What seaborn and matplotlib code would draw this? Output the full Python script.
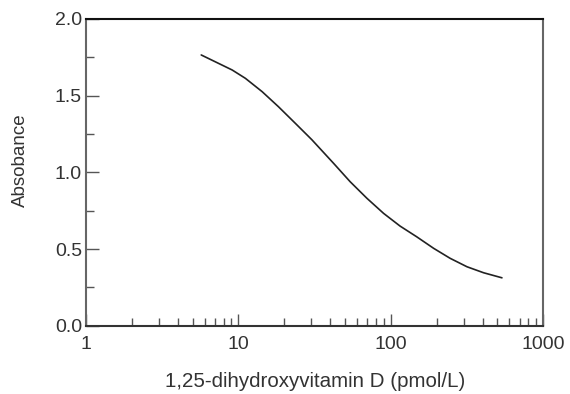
import seaborn as sns
import matplotlib.pyplot as plt
from matplotlib.ticker import MultipleLocator, LogLocator, NullFormatter, FixedLocator, FixedFormatter
import pandas as pd

# standard curve
conc = [5.7, 7.0, 9.1, 11.1, 14.3, 18.3, 23.6, 30.3, 42.1, 54.1,
        69.7, 89.6, 115, 148, 191, 245, 316, 406, 536]
absorbance = [1.765, 1.722, 1.667, 1.613, 1.526, 1.428, 1.320, 1.213, 1.059, 0.939,
              0.831, 0.733, 0.650, 0.580, 0.505, 0.440, 0.385, 0.346, 0.313]

x_ticks = [1, 10, 100, 1000]
x_ticklabels = ["1", "10", "100", "1000"]

df = pd.DataFrame({"conc": conc, "abs": absorbance})

sns.set_style("ticks")
plt.rcParams["font.family"] = ["Liberation Sans", "Arimo", "DejaVu Sans"]
plt.rcParams["xtick.direction"] = "in"
plt.rcParams["ytick.direction"] = "in"

fig = plt.figure(figsize=(5.7, 3.94), dpi=100)
ax = fig.add_axes([0.151, 0.173, 0.802, 0.779])

sns.lineplot(data=df, x="conc", y="abs", color="#222222", linewidth=1.2, ax=ax)

ax.set_xscale("log")
ax.set_xlim(1, 1000)
ax.set_ylim(0, 2.0)

ax.xaxis.set_major_locator(FixedLocator(x_ticks))
ax.xaxis.set_major_formatter(FixedFormatter(x_ticklabels))
ax.xaxis.set_minor_locator(LogLocator(base=10, subs=range(2, 10)))
ax.xaxis.set_minor_formatter(NullFormatter())
ax.yaxis.set_major_locator(MultipleLocator(0.5))
ax.yaxis.set_major_formatter(plt.FormatStrFormatter("%.1f"))
ax.yaxis.set_minor_locator(MultipleLocator(0.25))

ax.tick_params(axis="both", which="major", length=9, width=1.0, color="#555555",
               labelsize=14, labelcolor="#333333")
ax.tick_params(axis="x", which="major", pad=7)
ax.tick_params(axis="y", which="major", pad=3)
ax.tick_params(axis="both", which="minor", length=6, width=1.0, color="#555555")

for side in ["left", "right"]:
    ax.spines[side].set_color("#666666")
    ax.spines[side].set_linewidth(1.5)
ax.spines["bottom"].set_color("#333333")
ax.spines["bottom"].set_linewidth(1.5)
ax.spines["top"].set_color("#111111")
ax.spines["top"].set_linewidth(1.5)

ax.set_xlabel("1,25-dihydroxyvitamin D (pmol/L)", fontsize=14.8, color="#333333")
ax.set_ylabel("Absobance", fontsize=13.5, color="#333333")
ax.xaxis.set_label_coords(0.501, -0.152)
ax.yaxis.set_label_coords(-0.125, 0.54)

plt.savefig("out.png", dpi=100)
